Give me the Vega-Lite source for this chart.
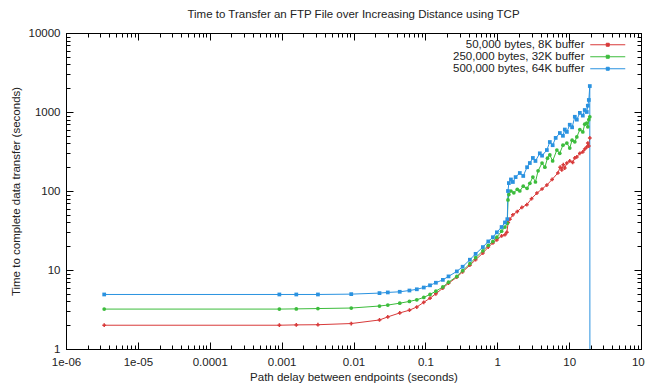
{
  "$schema": "https://vega.github.io/schema/vega-lite/v6.json",
  "autosize": "none",
  "width": 575,
  "height": 316,
  "padding": {"left": 66, "top": 33, "right": 4, "bottom": 40},
  "background": "white",
  "config": {
    "view": {"stroke": "black", "strokeWidth": 1},
    "font": "Liberation Sans",
    "axis": {"labelFont": "Liberation Sans", "titleFont": "Liberation Sans", "labelFontSize": 11.5, "titleFontSize": 11.5, "labelColor": "#222", "titleColor": "#222", "titleFontWeight": "normal", "domain": false, "grid": false, "labelOverlap": false, "labelFlush": false}
  },
  "title": {"text": "Time to Transfer an FTP File over Increasing Distance using TCP", "fontSize": 11.5, "fontWeight": "normal", "color": "#222", "font": "Liberation Sans", "frame": "group", "anchor": "middle", "offset": 7},
  "datasets": {
    "d": [
      {"series": "50,000 bytes, 8K buffer", "delay": 0.0000034, "time": 2.0},
      {"series": "50,000 bytes, 8K buffer", "delay": 0.00093, "time": 2.0},
      {"series": "50,000 bytes, 8K buffer", "delay": 0.0016, "time": 2.02},
      {"series": "50,000 bytes, 8K buffer", "delay": 0.0032, "time": 2.03},
      {"series": "50,000 bytes, 8K buffer", "delay": 0.0093, "time": 2.1},
      {"series": "50,000 bytes, 8K buffer", "delay": 0.023, "time": 2.33},
      {"series": "50,000 bytes, 8K buffer", "delay": 0.03, "time": 2.55},
      {"series": "50,000 bytes, 8K buffer", "delay": 0.044, "time": 2.86},
      {"series": "50,000 bytes, 8K buffer", "delay": 0.06, "time": 3.1},
      {"series": "50,000 bytes, 8K buffer", "delay": 0.076, "time": 3.4},
      {"series": "50,000 bytes, 8K buffer", "delay": 0.095, "time": 3.9},
      {"series": "50,000 bytes, 8K buffer", "delay": 0.116, "time": 4.4},
      {"series": "50,000 bytes, 8K buffer", "delay": 0.14, "time": 5.0},
      {"series": "50,000 bytes, 8K buffer", "delay": 0.175, "time": 5.9},
      {"series": "50,000 bytes, 8K buffer", "delay": 0.21, "time": 6.8},
      {"series": "50,000 bytes, 8K buffer", "delay": 0.274, "time": 8.1},
      {"series": "50,000 bytes, 8K buffer", "delay": 0.33, "time": 9.5},
      {"series": "50,000 bytes, 8K buffer", "delay": 0.416, "time": 11.5},
      {"series": "50,000 bytes, 8K buffer", "delay": 0.5, "time": 13.5},
      {"series": "50,000 bytes, 8K buffer", "delay": 0.631, "time": 16.4},
      {"series": "50,000 bytes, 8K buffer", "delay": 0.75, "time": 19.5},
      {"series": "50,000 bytes, 8K buffer", "delay": 0.87, "time": 22},
      {"series": "50,000 bytes, 8K buffer", "delay": 0.987, "time": 24},
      {"series": "50,000 bytes, 8K buffer", "delay": 1.15, "time": 27},
      {"series": "50,000 bytes, 8K buffer", "delay": 1.28, "time": 28},
      {"series": "50,000 bytes, 8K buffer", "delay": 1.36, "time": 30},
      {"series": "50,000 bytes, 8K buffer", "delay": 1.42, "time": 40},
      {"series": "50,000 bytes, 8K buffer", "delay": 1.5, "time": 44},
      {"series": "50,000 bytes, 8K buffer", "delay": 1.65, "time": 50},
      {"series": "50,000 bytes, 8K buffer", "delay": 1.9, "time": 55},
      {"series": "50,000 bytes, 8K buffer", "delay": 2.2, "time": 62},
      {"series": "50,000 bytes, 8K buffer", "delay": 2.58, "time": 67},
      {"series": "50,000 bytes, 8K buffer", "delay": 3.0, "time": 80},
      {"series": "50,000 bytes, 8K buffer", "delay": 3.56, "time": 94},
      {"series": "50,000 bytes, 8K buffer", "delay": 4.2, "time": 106},
      {"series": "50,000 bytes, 8K buffer", "delay": 4.9, "time": 119},
      {"series": "50,000 bytes, 8K buffer", "delay": 5.8, "time": 140},
      {"series": "50,000 bytes, 8K buffer", "delay": 6.97, "time": 169},
      {"series": "50,000 bytes, 8K buffer", "delay": 7.5, "time": 200},
      {"series": "50,000 bytes, 8K buffer", "delay": 7.9, "time": 185},
      {"series": "50,000 bytes, 8K buffer", "delay": 8.3, "time": 215},
      {"series": "50,000 bytes, 8K buffer", "delay": 8.7, "time": 195},
      {"series": "50,000 bytes, 8K buffer", "delay": 9.3, "time": 226},
      {"series": "50,000 bytes, 8K buffer", "delay": 10.2, "time": 240},
      {"series": "50,000 bytes, 8K buffer", "delay": 11.2, "time": 230},
      {"series": "50,000 bytes, 8K buffer", "delay": 12.0, "time": 262},
      {"series": "50,000 bytes, 8K buffer", "delay": 12.8, "time": 270},
      {"series": "50,000 bytes, 8K buffer", "delay": 14.1, "time": 300},
      {"series": "50,000 bytes, 8K buffer", "delay": 15.5, "time": 312},
      {"series": "50,000 bytes, 8K buffer", "delay": 16.5, "time": 340},
      {"series": "50,000 bytes, 8K buffer", "delay": 17.6, "time": 360},
      {"series": "50,000 bytes, 8K buffer", "delay": 18.2, "time": 405},
      {"series": "50,000 bytes, 8K buffer", "delay": 18.8, "time": 370},
      {"series": "50,000 bytes, 8K buffer", "delay": 19.4, "time": 470},
      {"series": "250,000 bytes, 32K buffer", "delay": 0.0000034, "time": 3.2},
      {"series": "250,000 bytes, 32K buffer", "delay": 0.00093, "time": 3.2},
      {"series": "250,000 bytes, 32K buffer", "delay": 0.0016, "time": 3.22},
      {"series": "250,000 bytes, 32K buffer", "delay": 0.0032, "time": 3.25},
      {"series": "250,000 bytes, 32K buffer", "delay": 0.0093, "time": 3.3},
      {"series": "250,000 bytes, 32K buffer", "delay": 0.023, "time": 3.5},
      {"series": "250,000 bytes, 32K buffer", "delay": 0.03, "time": 3.6},
      {"series": "250,000 bytes, 32K buffer", "delay": 0.044, "time": 3.8},
      {"series": "250,000 bytes, 32K buffer", "delay": 0.06, "time": 4.0},
      {"series": "250,000 bytes, 32K buffer", "delay": 0.076, "time": 4.2},
      {"series": "250,000 bytes, 32K buffer", "delay": 0.095, "time": 4.5},
      {"series": "250,000 bytes, 32K buffer", "delay": 0.116, "time": 4.9},
      {"series": "250,000 bytes, 32K buffer", "delay": 0.14, "time": 5.4},
      {"series": "250,000 bytes, 32K buffer", "delay": 0.175, "time": 6.1},
      {"series": "250,000 bytes, 32K buffer", "delay": 0.21, "time": 7.0},
      {"series": "250,000 bytes, 32K buffer", "delay": 0.274, "time": 8.3},
      {"series": "250,000 bytes, 32K buffer", "delay": 0.33, "time": 9.8},
      {"series": "250,000 bytes, 32K buffer", "delay": 0.416, "time": 12},
      {"series": "250,000 bytes, 32K buffer", "delay": 0.5, "time": 14.3},
      {"series": "250,000 bytes, 32K buffer", "delay": 0.631, "time": 17.5},
      {"series": "250,000 bytes, 32K buffer", "delay": 0.75, "time": 20.5},
      {"series": "250,000 bytes, 32K buffer", "delay": 0.87, "time": 23},
      {"series": "250,000 bytes, 32K buffer", "delay": 0.987, "time": 26},
      {"series": "250,000 bytes, 32K buffer", "delay": 1.15, "time": 31},
      {"series": "250,000 bytes, 32K buffer", "delay": 1.28, "time": 35},
      {"series": "250,000 bytes, 32K buffer", "delay": 1.38, "time": 39},
      {"series": "250,000 bytes, 32K buffer", "delay": 1.41, "time": 77},
      {"series": "250,000 bytes, 32K buffer", "delay": 1.45, "time": 90},
      {"series": "250,000 bytes, 32K buffer", "delay": 1.55, "time": 100},
      {"series": "250,000 bytes, 32K buffer", "delay": 1.7, "time": 95},
      {"series": "250,000 bytes, 32K buffer", "delay": 1.9, "time": 105},
      {"series": "250,000 bytes, 32K buffer", "delay": 2.06, "time": 100},
      {"series": "250,000 bytes, 32K buffer", "delay": 2.3, "time": 115},
      {"series": "250,000 bytes, 32K buffer", "delay": 2.6, "time": 108},
      {"series": "250,000 bytes, 32K buffer", "delay": 2.84, "time": 125},
      {"series": "250,000 bytes, 32K buffer", "delay": 3.13, "time": 150},
      {"series": "250,000 bytes, 32K buffer", "delay": 3.4, "time": 130},
      {"series": "250,000 bytes, 32K buffer", "delay": 3.7, "time": 180},
      {"series": "250,000 bytes, 32K buffer", "delay": 4.2, "time": 226},
      {"series": "250,000 bytes, 32K buffer", "delay": 4.6, "time": 200},
      {"series": "250,000 bytes, 32K buffer", "delay": 5.0, "time": 260},
      {"series": "250,000 bytes, 32K buffer", "delay": 5.39, "time": 286},
      {"series": "250,000 bytes, 32K buffer", "delay": 5.9, "time": 240},
      {"series": "250,000 bytes, 32K buffer", "delay": 6.75, "time": 330},
      {"series": "250,000 bytes, 32K buffer", "delay": 7.4, "time": 300},
      {"series": "250,000 bytes, 32K buffer", "delay": 8.2, "time": 380},
      {"series": "250,000 bytes, 32K buffer", "delay": 9.3, "time": 405},
      {"series": "250,000 bytes, 32K buffer", "delay": 10.2, "time": 350},
      {"series": "250,000 bytes, 32K buffer", "delay": 11, "time": 440},
      {"series": "250,000 bytes, 32K buffer", "delay": 12.0, "time": 420},
      {"series": "250,000 bytes, 32K buffer", "delay": 12.8, "time": 483},
      {"series": "250,000 bytes, 32K buffer", "delay": 14.1, "time": 600},
      {"series": "250,000 bytes, 32K buffer", "delay": 15.5, "time": 560},
      {"series": "250,000 bytes, 32K buffer", "delay": 16.5, "time": 700},
      {"series": "250,000 bytes, 32K buffer", "delay": 17.6, "time": 725},
      {"series": "250,000 bytes, 32K buffer", "delay": 18.2, "time": 650},
      {"series": "250,000 bytes, 32K buffer", "delay": 18.8, "time": 800},
      {"series": "250,000 bytes, 32K buffer", "delay": 19.4, "time": 870},
      {"series": "500,000 bytes, 64K buffer", "delay": 0.0000034, "time": 4.9},
      {"series": "500,000 bytes, 64K buffer", "delay": 0.00093, "time": 4.9},
      {"series": "500,000 bytes, 64K buffer", "delay": 0.0016, "time": 4.9},
      {"series": "500,000 bytes, 64K buffer", "delay": 0.0032, "time": 4.9},
      {"series": "500,000 bytes, 64K buffer", "delay": 0.0093, "time": 4.95},
      {"series": "500,000 bytes, 64K buffer", "delay": 0.023, "time": 5.1},
      {"series": "500,000 bytes, 64K buffer", "delay": 0.03, "time": 5.2},
      {"series": "500,000 bytes, 64K buffer", "delay": 0.044, "time": 5.3},
      {"series": "500,000 bytes, 64K buffer", "delay": 0.06, "time": 5.5},
      {"series": "500,000 bytes, 64K buffer", "delay": 0.076, "time": 5.7},
      {"series": "500,000 bytes, 64K buffer", "delay": 0.095, "time": 6.0},
      {"series": "500,000 bytes, 64K buffer", "delay": 0.116, "time": 6.4},
      {"series": "500,000 bytes, 64K buffer", "delay": 0.14, "time": 6.9},
      {"series": "500,000 bytes, 64K buffer", "delay": 0.175, "time": 7.5},
      {"series": "500,000 bytes, 64K buffer", "delay": 0.21, "time": 8.3},
      {"series": "500,000 bytes, 64K buffer", "delay": 0.274, "time": 9.6},
      {"series": "500,000 bytes, 64K buffer", "delay": 0.33, "time": 11},
      {"series": "500,000 bytes, 64K buffer", "delay": 0.416, "time": 13.5},
      {"series": "500,000 bytes, 64K buffer", "delay": 0.5, "time": 16},
      {"series": "500,000 bytes, 64K buffer", "delay": 0.631, "time": 19.5},
      {"series": "500,000 bytes, 64K buffer", "delay": 0.75, "time": 23},
      {"series": "500,000 bytes, 64K buffer", "delay": 0.87, "time": 26},
      {"series": "500,000 bytes, 64K buffer", "delay": 0.987, "time": 30},
      {"series": "500,000 bytes, 64K buffer", "delay": 1.15, "time": 35},
      {"series": "500,000 bytes, 64K buffer", "delay": 1.28, "time": 40},
      {"series": "500,000 bytes, 64K buffer", "delay": 1.38, "time": 44},
      {"series": "500,000 bytes, 64K buffer", "delay": 1.41, "time": 100},
      {"series": "500,000 bytes, 64K buffer", "delay": 1.45, "time": 126},
      {"series": "500,000 bytes, 64K buffer", "delay": 1.55, "time": 140},
      {"series": "500,000 bytes, 64K buffer", "delay": 1.65, "time": 130},
      {"series": "500,000 bytes, 64K buffer", "delay": 1.8, "time": 150},
      {"series": "500,000 bytes, 64K buffer", "delay": 2.06, "time": 169},
      {"series": "500,000 bytes, 64K buffer", "delay": 2.3, "time": 155},
      {"series": "500,000 bytes, 64K buffer", "delay": 2.6, "time": 200},
      {"series": "500,000 bytes, 64K buffer", "delay": 2.84, "time": 226},
      {"series": "500,000 bytes, 64K buffer", "delay": 3.13, "time": 262},
      {"series": "500,000 bytes, 64K buffer", "delay": 3.4, "time": 240},
      {"series": "500,000 bytes, 64K buffer", "delay": 3.91, "time": 300},
      {"series": "500,000 bytes, 64K buffer", "delay": 4.2, "time": 280},
      {"series": "500,000 bytes, 64K buffer", "delay": 4.9, "time": 330},
      {"series": "500,000 bytes, 64K buffer", "delay": 5.39, "time": 417},
      {"series": "500,000 bytes, 64K buffer", "delay": 5.9, "time": 380},
      {"series": "500,000 bytes, 64K buffer", "delay": 6.5, "time": 470},
      {"series": "500,000 bytes, 64K buffer", "delay": 7.43, "time": 542},
      {"series": "500,000 bytes, 64K buffer", "delay": 8.2, "time": 500},
      {"series": "500,000 bytes, 64K buffer", "delay": 8.71, "time": 600},
      {"series": "500,000 bytes, 64K buffer", "delay": 9.3, "time": 560},
      {"series": "500,000 bytes, 64K buffer", "delay": 10.2, "time": 690},
      {"series": "500,000 bytes, 64K buffer", "delay": 11, "time": 640},
      {"series": "500,000 bytes, 64K buffer", "delay": 12.0, "time": 870},
      {"series": "500,000 bytes, 64K buffer", "delay": 12.8, "time": 800},
      {"series": "500,000 bytes, 64K buffer", "delay": 14.1, "time": 975},
      {"series": "500,000 bytes, 64K buffer", "delay": 15.5, "time": 900},
      {"series": "500,000 bytes, 64K buffer", "delay": 16.5, "time": 1060},
      {"series": "500,000 bytes, 64K buffer", "delay": 17.6, "time": 1000},
      {"series": "500,000 bytes, 64K buffer", "delay": 18.2, "time": 1200},
      {"series": "500,000 bytes, 64K buffer", "delay": 18.8, "time": 1420},
      {"series": "500,000 bytes, 64K buffer", "delay": 19.4, "time": 2130},
      {"series": "500,000 bytes, 64K buffer", "delay": 19.45, "time": 1}
    ]
  },
  "data": {"name": "d"},
  "resolve": {"axis": {"x": "independent", "y": "independent"}},
  "layer": [
    {
      "mark": {"type": "line", "strokeWidth": 1, "clip": true},
      "encoding": {
        "x": {"field": "delay", "type": "quantitative",
          "scale": {"type": "log", "domain": [0.000001, 100], "nice": false},
          "axis": {"orient": "bottom", "zindex": 2, "ticks": true, "tickColor": "#000000", "tickWidth": 1, "offset": -4, "tickSize": 4, "title": "Path delay between endpoints (seconds)", "titlePadding": 4, "labelPadding": 7,
            "values": [0.000001,0.000002,0.000003,0.000004,0.000005,0.000006,0.000007,0.000008,0.000009,0.00001,0.00002,0.00003,0.00004,0.00005,0.00006,0.00007,0.00008,0.00009,0.0001,0.0002,0.0003,0.0004,0.0005,0.0006,0.0007,0.0008,0.0009,0.001,0.002,0.003,0.004,0.005,0.006,0.007,0.008,0.009,0.01,0.02,0.03,0.04,0.05,0.06,0.07,0.08,0.09,0.1,0.2,0.3,0.4,0.5,0.6,0.7,0.8,0.9,1,2,3,4,5,6,7,8,9,10,20,30,40,50,60,70,80,90,100],
            "labelExpr": "datum.value===0.000001?'1e-06':datum.value===0.00001?'1e-05':datum.value===0.0001?'0.0001':datum.value===0.001?'0.001':datum.value===0.01?'0.01':datum.value===0.1?'0.1':datum.value===1?'1':datum.value===10?'10':datum.value===100?'100':''"
          }},
        "y": {"field": "time", "type": "quantitative",
          "scale": {"type": "log", "domain": [1, 10000], "nice": false},
          "axis": {"orient": "left", "zindex": 2, "ticks": true, "tickColor": "#000000", "tickWidth": 1, "offset": -4, "tickSize": 4, "title": "Time to complete data transfer (seconds)", "titlePadding": 7, "labelPadding": 6,
            "values": [1,2,3,4,5,6,7,8,9,10,20,30,40,50,60,70,80,90,100,200,300,400,500,600,700,800,900,1000,2000,3000,4000,5000,6000,7000,8000,9000,10000],
            "labelExpr": "indexof([1,10,100,1000,10000], datum.value) >= 0 ? datum.value + '' : ''"
          }},
        "color": {"field": "series", "type": "nominal",
          "scale": {"domain": ["50,000 bytes, 8K buffer", "250,000 bytes, 32K buffer", "500,000 bytes, 64K buffer"], "range": ["#d83a3a", "#3cbc3c", "#2a92e0"]},
          "legend": {"orient": "none", "legendX": 536, "legendY": 6, "title": null, "labelAlign": "right", "labelOffset": -29, "labelFontSize": 11.5, "labelFont": "Liberation Sans", "labelColor": "#222", "rowPadding": -1, "symbolType": "M-3.5,0H3.5M-0.3,-0.3H0.3V0.3H-0.3Z", "symbolSize": 100, "symbolStrokeWidth": 1}
        }
      }
    },
    {
      "transform": [{"filter": "datum.series === '50,000 bytes, 8K buffer'"}],
      "mark": {"type": "point", "shape": "cross", "filled": true, "size": 14, "opacity": 1},
      "encoding": {
        "x": {"field": "delay", "type": "quantitative",
          "axis": {"orient": "top", "zindex": 2, "ticks": true, "tickColor": "#000000", "tickWidth": 1, "offset": -4, "tickSize": 4, "title": null, "labels": false,
            "values": [0.000001,0.000002,0.000003,0.000004,0.000005,0.000006,0.000007,0.000008,0.000009,0.00001,0.00002,0.00003,0.00004,0.00005,0.00006,0.00007,0.00008,0.00009,0.0001,0.0002,0.0003,0.0004,0.0005,0.0006,0.0007,0.0008,0.0009,0.001,0.002,0.003,0.004,0.005,0.006,0.007,0.008,0.009,0.01,0.02,0.03,0.04,0.05,0.06,0.07,0.08,0.09,0.1,0.2,0.3,0.4,0.5,0.6,0.7,0.8,0.9,1,2,3,4,5,6,7,8,9,10,20,30,40,50,60,70,80,90,100]
          }},
        "y": {"field": "time", "type": "quantitative",
          "axis": {"orient": "right", "zindex": 2, "ticks": true, "tickColor": "#000000", "tickWidth": 1, "offset": -4, "tickSize": 4, "title": null, "labels": false,
            "values": [1,2,3,4,5,6,7,8,9,10,20,30,40,50,60,70,80,90,100,200,300,400,500,600,700,800,900,1000,2000,3000,4000,5000,6000,7000,8000,9000,10000]
          }},
        "color": {"field": "series", "type": "nominal"}
      }
    },
    {
      "transform": [{"filter": "datum.series === '250,000 bytes, 32K buffer'"}],
      "mark": {"type": "point", "shape": "circle", "filled": true, "size": 14, "opacity": 1},
      "encoding": {
        "x": {"field": "delay", "type": "quantitative",
          "axis": {"orient": "bottom", "zindex": 2, "ticks": true, "tickColor": "#000000", "tickWidth": 1, "offset": -7, "tickSize": 7, "title": null, "labels": false,
            "values": [0.000001,0.00001,0.0001,0.001,0.01,0.1,1,10,100]}},
        "y": {"field": "time", "type": "quantitative",
          "axis": {"orient": "left", "zindex": 2, "ticks": true, "tickColor": "#000000", "tickWidth": 1, "offset": -7, "tickSize": 7, "title": null, "labels": false,
            "values": [1,10,100,1000,10000]}},
        "color": {"field": "series", "type": "nominal"}
      }
    },
    {
      "transform": [{"filter": "datum.series === '500,000 bytes, 64K buffer' && datum.time > 1"}],
      "mark": {"type": "point", "shape": "square", "filled": true, "size": 14, "opacity": 1},
      "encoding": {
        "x": {"field": "delay", "type": "quantitative",
          "axis": {"orient": "top", "zindex": 2, "ticks": true, "tickColor": "#000000", "tickWidth": 1, "offset": -7, "tickSize": 7, "title": null, "labels": false,
            "values": [0.000001,0.00001,0.0001,0.001,0.01,0.1,1,10,100]}},
        "y": {"field": "time", "type": "quantitative",
          "axis": {"orient": "right", "zindex": 2, "ticks": true, "tickColor": "#000000", "tickWidth": 1, "offset": -7, "tickSize": 7, "title": null, "labels": false,
            "values": [1,10,100,1000,10000]}},
        "color": {"field": "series", "type": "nominal"}
      }
    }
  ]
}
